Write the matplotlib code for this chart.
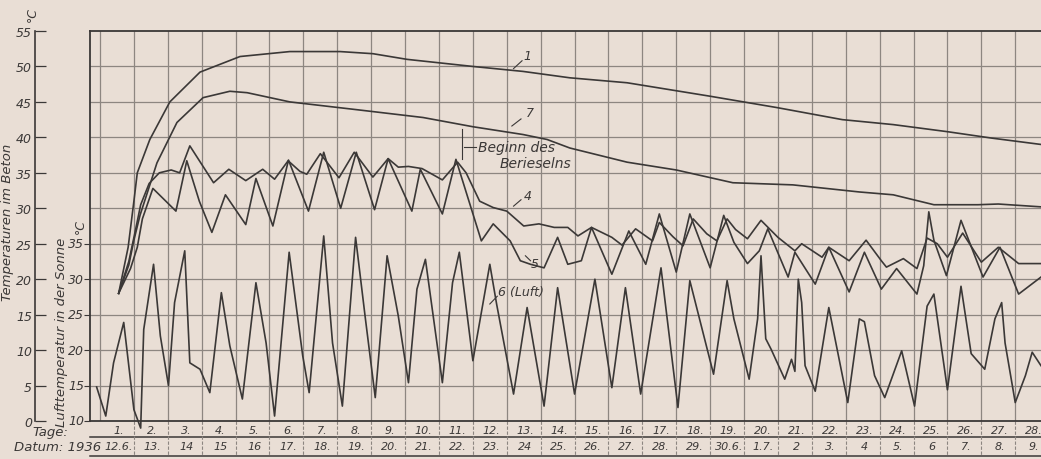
import matplotlib as mpl
mpl.use('Agg')
import matplotlib.pyplot as plt

# time axis in days from 12.6.1936 (day 1 = interval 0..1), values in deg C
# concrete curves are on the concrete scale; air curve on the air scale (= concrete + 10)

days_1 = [0.55, 0.83, 1.0, 1.1, 1.47, 2.06, 2.95, 4.13, 5.6, 7.08, 8.05, 9.06, 11.0, 12.48,
          13.86, 15.55, 18.0, 19.97, 21.9, 23.4, 25.0, 26.3, 27.76]
temp_1 = [18, 24.5, 31, 35, 39.7, 45.0, 49.2, 51.4, 52.1, 52.1, 51.8, 51.0, 50.0, 49.3,
          48.4, 47.7, 45.8, 44.2, 42.5, 41.8, 40.8, 39.9, 39.0]

days_7 = [0.55, 0.85, 1.0, 1.18, 1.68, 2.27, 3.04, 3.83, 4.34, 5.6, 7.58, 9.53, 11.0, 12.48,
          13.19, 13.86, 15.55, 17.0, 18.67, 20.44, 22.4, 23.4, 24.6, 25.9, 26.5, 27.76]
temp_7 = [18, 22, 25.5, 29, 36.4, 42.1, 45.6, 46.5, 46.3, 45.0, 43.9, 42.8, 41.5, 40.4,
          39.7, 38.5, 36.5, 35.4, 33.6, 33.3, 32.3, 31.9, 30.5, 30.5, 30.6, 30.2]

days_4 = [0.55, 0.85, 1.05, 1.2, 1.45, 1.75, 2.1, 2.35, 2.65, 3.0, 3.35, 3.8, 4.3, 4.8, 5.15,
          5.55, 5.9, 6.1, 6.5, 7.05, 7.5, 8.05, 8.5, 8.8, 9.1, 9.5, 10.1, 10.55, 10.8, 11.2,
          11.6, 12.0, 12.5, 12.95, 13.4, 13.8, 14.1, 14.5, 15.1, 15.4, 15.8, 16.3, 16.5,
          16.9, 17.2, 17.5, 17.9, 18.2, 18.5, 18.75, 19.1, 19.5, 20.0, 20.5, 20.7, 21.3,
          21.5, 22.1, 22.6, 23.05, 23.2, 23.7, 24.1, 24.4, 24.7, 25.0, 25.45, 26.0, 26.5,
          27.1, 27.76]
temp_4 = [18, 22.5, 27, 30.5, 33.5, 35.0, 35.4, 35.0, 38.8, 36.2, 33.6, 35.5, 33.9, 35.5, 34.1,
          36.7, 35.2, 34.8, 37.7, 34.3, 37.9, 34.4, 37.0, 35.8, 35.9, 35.6, 34.0, 36.5, 35.0, 31.0,
          30.1, 29.6, 27.5, 27.8, 27.3, 27.3, 26.1, 27.3, 25.9, 24.8, 27.1, 25.4, 28.0,
          26.0, 24.7, 28.5, 26.4, 25.4, 28.5, 27.0, 25.7, 28.3, 25.9, 24.0, 25.0, 23.1,
          24.5, 22.6, 25.5, 22.6, 21.7, 22.9, 21.5, 25.8, 25.0, 23.1, 26.5, 22.4, 24.5,
          22.2, 22.2]

days_5 = [0.55, 0.9, 1.1, 1.25, 1.56, 2.24, 2.56, 2.93, 3.3, 3.7, 4.3, 4.6, 5.1, 5.56, 6.15,
          6.6, 7.1, 7.56, 8.1, 8.5, 9.2, 9.45, 10.1, 10.5, 11.25, 11.6, 12.1, 12.4, 12.7,
          13.1, 13.5, 13.8, 14.2, 14.5, 15.1, 15.6, 16.1, 16.5, 17.0, 17.4, 18.0, 18.4,
          18.7, 19.1, 19.45, 19.7, 20.3, 20.5, 21.1, 21.5, 22.1, 22.55, 23.05, 23.5, 24.1,
          24.3, 24.45, 24.6, 24.97, 25.4, 26.05, 26.55, 27.1, 27.76]
temp_5 = [18, 21.5, 24.5, 28.5, 32.8, 29.6, 36.7, 31.0, 26.6, 31.9, 27.7, 34.2, 27.5, 36.8, 29.6,
          37.9, 30.0, 37.9, 29.8, 37.0, 29.6, 35.5, 29.2, 36.9, 25.4, 27.8, 25.4, 22.6, 22.1,
          21.6, 25.9, 22.1, 22.6, 27.3, 20.7, 26.8, 22.1, 29.2, 21.0, 29.2, 21.6, 29.0,
          25.2, 22.2, 24.0, 27.1, 20.3, 23.8, 19.3, 24.5, 18.2, 23.8, 18.6, 21.5, 17.9,
          21.9, 29.5, 25.5, 20.5, 28.3, 20.3, 24.5, 17.9, 20.3]

days_6 = [-0.1, 0.17, 0.4, 0.7, 1.0, 1.2, 1.29, 1.58, 1.78, 2.02, 2.2, 2.5, 2.65, 2.95, 3.24,
          3.58, 3.83, 4.2, 4.6, 4.9, 5.15, 5.58, 5.98, 6.17, 6.6, 6.86, 7.15, 7.54, 7.83,
          8.12, 8.47, 8.8, 9.1, 9.35, 9.6, 10.1, 10.4, 10.6, 11.0, 11.5, 11.7, 12.2, 12.6,
          13.1, 13.5, 14.0, 14.6, 15.1, 15.5, 15.95, 16.55, 17.05, 17.4, 18.1, 18.5, 18.7,
          19.15, 19.4, 19.5, 19.64, 19.8, 20.2, 20.4, 20.5, 20.6, 20.7, 20.8, 21.1, 21.5,
          22.06, 22.4, 22.55, 22.85, 23.15, 23.65, 24.03, 24.4, 24.6, 25.0, 25.4, 25.7,
          26.1, 26.4, 26.6, 26.7, 27.0, 27.3, 27.5, 27.76]
temp_6 = [14.8, 10.7, 18.2, 23.9, 11.6, 9.0, 22.9, 32.1, 22.0, 15.0, 26.7, 34.0, 18.2, 17.3, 14.0,
          28.1, 20.6, 13.1, 29.5, 21.0, 10.7, 33.8, 19.2, 14.0, 36.1, 21.0, 12.1, 35.9, 24.4,
          13.3, 33.3, 24.8, 15.4, 28.6, 32.8, 15.4, 29.5, 33.8, 18.5, 32.1, 26.5, 13.8, 26.0,
          12.1, 28.8, 13.8, 30.0, 14.7, 28.8, 13.8, 31.6, 11.9, 29.8, 16.6, 29.8, 24.4,
          15.9, 24.4, 33.3, 21.6, 20.1, 15.9, 18.7, 17.0, 30.0, 26.7, 17.8, 14.2, 26.0,
          12.6, 24.4, 24.0, 16.4, 13.3, 19.9, 12.1, 26.2, 27.9, 14.4, 29.0, 19.5,
          17.3, 24.4, 26.7, 21.0, 12.6, 16.4, 19.7, 17.8]

beton_ticks = [0, 5, 10, 15, 20, 25, 30, 35, 40, 45, 50, 55]
luft_ticks = [10, 15, 20, 25, 30, 35]
tage = [f'{d}.' for d in range(1, 29)]
datum = ['12.6.', '13.', '14', '15', '16', '17.', '18.', '19.', '20.', '21.', '22.', '23.', '24',
         '25.', '26.', '27.', '28.', '29.', '30.6.', '1.7.', '2', '3.', '4', '5.', '6', '7.', '8.', '9.']

paper = '#e9ded5'
ink = '#3b3837'
gridc = '#8d8681'

plt.rcParams['font.family'] = ['Liberation Sans Narrow', 'DejaVu Sans']
plt.rcParams['font.style'] = 'italic'

W, H = 1041, 460
fig = plt.figure(figsize=(W / 100, H / 100), dpi=100, facecolor=paper)
box = (90 / W, (H - 422) / H, (W - 90) / W, (422 - 32) / H)

# outer axis for the concrete temperature
ax2 = fig.add_axes((35 / W, box[1], 0.001, box[3]))
ax2.patch.set_visible(False)
ax2.set_ylim(0, 55)
ax2.set_xticks([])
for s in ['right', 'top', 'bottom']:
    ax2.spines[s].set_visible(False)
ax2.spines['left'].set_color(ink)
ax2.spines['left'].set_linewidth(1.2)
ax2.set_yticks(beton_ticks)
ax2.set_yticklabels([str(t) for t in beton_ticks])
ax2.tick_params(axis='y', direction='in', length=8, width=0.9, color=ink,
                labelsize=9, labelcolor=ink, pad=2)

ax = fig.add_axes(box)
ax.set_facecolor(paper)
ax.set_xlim(-0.295, 27.76)
ax.set_ylim(0, 55)

# grid paper
for t in range(5, 55, 5):
    ax.axhline(t, color=gridc, lw=0.9, zorder=1)
for d in range(0, 28):
    ax.axvline(d, color=gridc, lw=0.9, zorder=1)

ax.spines['right'].set_visible(False)
for s in ['left', 'top', 'bottom']:
    ax.spines[s].set_color(ink)
    ax.spines[s].set_linewidth(1.3)
ax.set_xticks([])

# inner axis: air temperature (shifted by 10 deg), labels placed by hand
ax.set_yticks([t - 10 for t in luft_ticks])
ax.tick_params(axis='y', direction='out', length=4, width=0.8, color=ink, labelleft=False)
ytr = ax.get_yaxis_transform()
for t in luft_ticks:
    ax.text(-0.006, t - 10, str(t), transform=ytr, ha='right', va='center',
            fontsize=9, color=ink, clip_on=False)

kw = dict(color=ink, lw=1.2, zorder=3, solid_joinstyle='round')
ax.plot(days_1, temp_1, **kw)
ax.plot(days_7, temp_7, **kw)
ax.plot(days_4, temp_4, **kw)
ax.plot(days_5, temp_5, **kw)
ax.plot(days_6, [t - 10 for t in temp_6], clip_on=False, **kw)

# curve labels with short leaders
def label(txt, x, y, x0, y0, x1, y1):
    ax.plot([x0, x1], [y0, y1], color=ink, lw=0.8, zorder=3)
    ax.text(x, y, txt, color=ink, fontsize=9, ha='left', va='center', zorder=4)

label('1', 12.5, 51.6, 12.2, 49.7, 12.45, 50.8)
label('7', 12.55, 43.5, 12.15, 41.6, 12.42, 42.6)
label('4', 12.5, 31.8, 12.2, 30.3, 12.42, 31.2)
label('5', 12.72, 22.2, 12.55, 23.3, 12.7, 22.6)
label('6 (Luft)', 11.75, 18.2, 11.5, 16.5, 11.72, 17.6)

ax.plot([10.68, 10.68], [37.0, 41.2], color=ink, lw=0.8, zorder=3)
ax.plot([10.75, 11.1], [38.6, 38.6], color=ink, lw=0.8, zorder=3)
ax.text(11.15, 38.6, 'Beginn des', color=ink, fontsize=10, ha='left', va='center', zorder=4)
ax.text(11.8, 36.4, 'Berieselns', color=ink, fontsize=10, ha='left', va='center', zorder=4)

# axis titles
fig.text(8 / W, 1 - 222 / H, 'Temperaturen im Beton', rotation=90, ha='center', va='center',
         fontsize=9.5, color=ink)
fig.text(62 / W, 1 - 332 / H, 'Lufttemperatur in der Sonne', rotation=90, ha='center',
         va='center', fontsize=9.5, color=ink)
fig.text(32 / W, 1 - 14 / H, '°C', rotation=90, ha='center', va='center', fontsize=9, color=ink)
fig.text(80 / W, 1 - 226 / H, '°C', rotation=90, ha='center', va='center', fontsize=9, color=ink)

# day / date table below the chart
trans = ax.get_xaxis_transform()
y_tage = -9 / 390
y_mid = -16 / 390
y_datum = -25 / 390
y_bot = -35 / 390
ax.plot([-0.295, 27.76], [y_mid, y_mid], transform=trans, color=ink, lw=1.1, clip_on=False)
ax.plot([-0.295, 27.76], [y_bot, y_bot], transform=trans, color=ink, lw=1.1, clip_on=False)
for d in range(1, 28):
    ax.plot([d, d], [0, y_bot], transform=trans, color=gridc, lw=0.8, ls=(0, (3, 1.5)),
            clip_on=False)
for i, (t, dt) in enumerate(zip(tage, datum)):
    ax.text(i + 0.55, y_tage, t, transform=trans, ha='center', va='center', fontsize=8,
            color=ink, clip_on=False)
    ax.text(i + 0.55, y_datum, dt, transform=trans, ha='center', va='center', fontsize=8,
            color=ink, clip_on=False)
fig.text(68 / W, 1 - 433 / H, 'Tage:', ha='right', va='center', fontsize=9.5, color=ink)
fig.text(101 / W, 1 - 448 / H, 'Datum: 1936', ha='right', va='center', fontsize=9.5, color=ink)

fig.savefig('out.png', dpi=100, facecolor=paper)
